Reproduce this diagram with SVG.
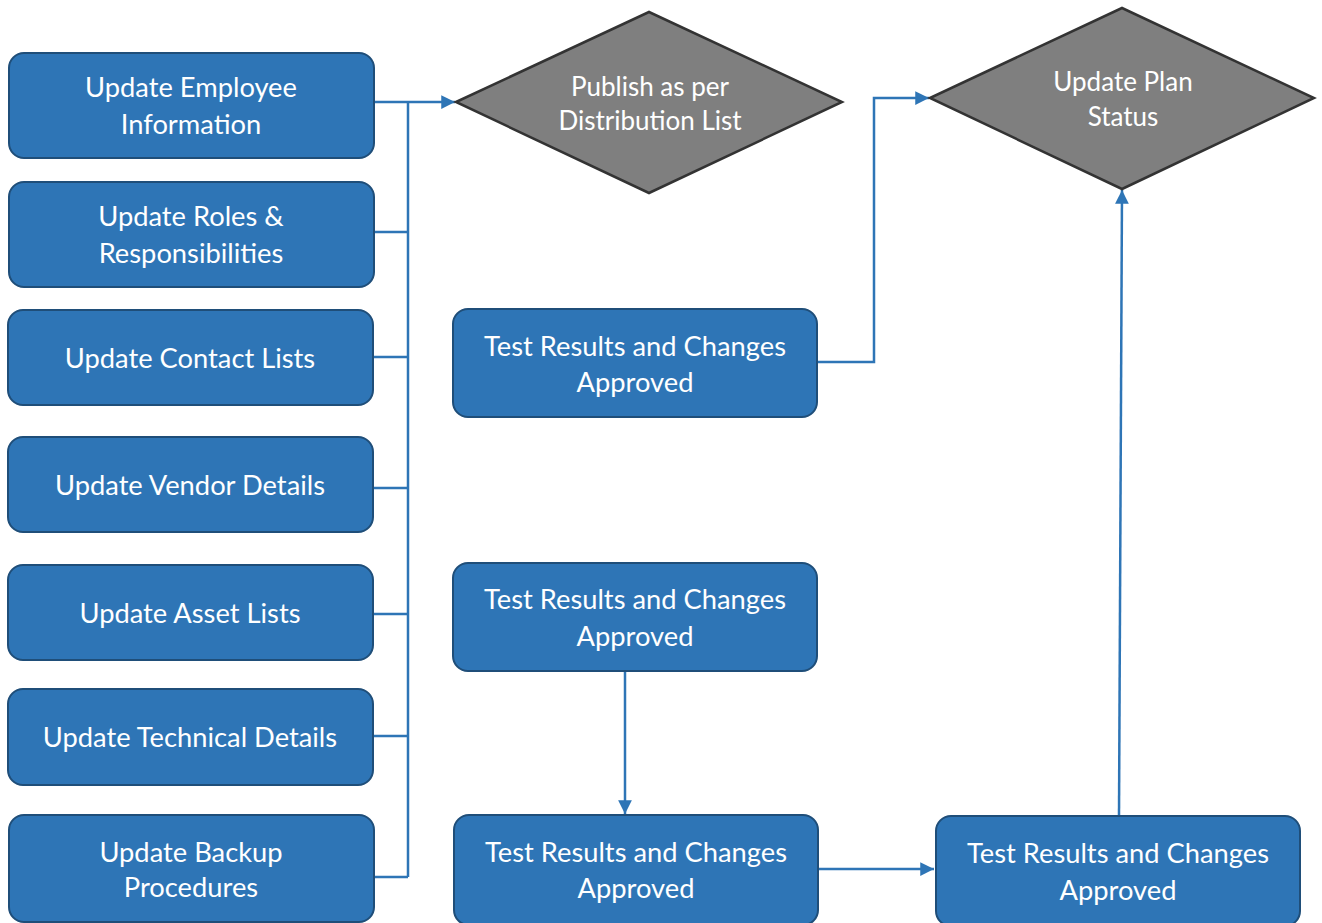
<svg xmlns="http://www.w3.org/2000/svg" width="1322" height="923" viewBox="0 0 1322 923">
  <defs>
    <marker id="arrow" viewBox="0 0 10 10" refX="10" refY="5" markerWidth="6" markerHeight="5.5" markerUnits="strokeWidth" orient="auto">
      <path d="M0,0 L10,5 L0,10 Z" fill="#2e75b6"/>
    </marker>
    <style>
      .box { fill: #2e75b6; stroke: #1f4e79; stroke-width: 2; }
      .dia { fill: #7f7f7f; stroke: #333333; stroke-width: 2.5; }
      .lbl { fill: #ffffff; font-family: Lato, "Open Sans", "Liberation Sans", sans-serif; font-size: 27.3px; text-anchor: middle; }
      .dlbl { font-size: 26px; }
      .wire { fill: none; stroke: #2e75b6; stroke-width: 2.5; }
    </style>
  </defs>
  <rect width="1322" height="923" fill="#ffffff"/>

  <!-- connectors -->
  <g id="connectors">
    <polyline class="wire" points="374,102 408,102"/>
    <polyline class="wire" points="408,102 455,102" marker-end="url(#arrow)"/>
    <polyline class="wire" points="408,102 408,877"/>
    <polyline class="wire" points="374,232 408,232"/>
    <polyline class="wire" points="373,357 408,357"/>
    <polyline class="wire" points="373,488 408,488"/>
    <polyline class="wire" points="373,614 408,614"/>
    <polyline class="wire" points="373,736 408,736"/>
    <polyline class="wire" points="374,877 408,877"/>
    <polyline class="wire" points="817,362 874,362 874,98 929,98" marker-end="url(#arrow)"/>
    <polyline class="wire" points="625,671 625,814" marker-end="url(#arrow)"/>
    <polyline class="wire" points="818,869 934,869" marker-end="url(#arrow)"/>
    <polyline class="wire" points="1119,816 1122,190" marker-end="url(#arrow)"/>
  </g>

  <!-- left column -->
  <g id="employee">
    <rect class="box" x="9" y="53" width="365" height="105" rx="15"/>
    <text class="lbl" x="191" y="97">Update Employee</text>
    <text class="lbl" x="191" y="134">Information</text>
  </g>
  <g id="roles">
    <rect class="box" x="9" y="182" width="365" height="105" rx="15"/>
    <text class="lbl" x="191" y="226">Update Roles &amp;</text>
    <text class="lbl" x="191" y="263">Responsibilities</text>
  </g>
  <g id="contacts">
    <rect class="box" x="8" y="310" width="365" height="95" rx="15"/>
    <text class="lbl" x="190" y="368">Update Contact Lists</text>
  </g>
  <g id="vendor">
    <rect class="box" x="8" y="437" width="365" height="95" rx="15"/>
    <text class="lbl" x="190" y="495">Update Vendor Details</text>
  </g>
  <g id="assets">
    <rect class="box" x="8" y="565" width="365" height="95" rx="15"/>
    <text class="lbl" x="190" y="623">Update Asset Lists</text>
  </g>
  <g id="technical">
    <rect class="box" x="8" y="689" width="365" height="96" rx="15"/>
    <text class="lbl" x="190" y="747">Update Technical Details</text>
  </g>
  <g id="backup">
    <rect class="box" x="9" y="815" width="365" height="107" rx="15"/>
    <text class="lbl" x="191" y="862">Update Backup</text>
    <text class="lbl" x="191" y="897">Procedures</text>
  </g>

  <!-- decisions -->
  <g id="publish">
    <polygon class="dia" points="456,102 649,12 842,102 649,193"/>
    <text class="lbl dlbl" x="650" y="96">Publish as per</text>
    <text class="lbl dlbl" x="650" y="130">Distribution List</text>
  </g>
  <g id="plan-status">
    <polygon class="dia" points="930,98 1122,8 1314,98 1122,189"/>
    <text class="lbl dlbl" x="1123" y="91">Update Plan</text>
    <text class="lbl dlbl" x="1123" y="126">Status</text>
  </g>

  <!-- approval steps -->
  <g id="approved-a">
    <rect class="box" x="453" y="309" width="364" height="108" rx="15"/>
    <text class="lbl" x="635" y="356">Test Results and Changes</text>
    <text class="lbl" x="635" y="392">Approved</text>
  </g>
  <g id="approved-b">
    <rect class="box" x="453" y="563" width="364" height="108" rx="15"/>
    <text class="lbl" x="635" y="609">Test Results and Changes</text>
    <text class="lbl" x="635" y="646">Approved</text>
  </g>
  <g id="approved-c">
    <rect class="box" x="454" y="815" width="364" height="110" rx="15"/>
    <text class="lbl" x="636" y="862">Test Results and Changes</text>
    <text class="lbl" x="636" y="898">Approved</text>
  </g>
  <g id="approved-d">
    <rect class="box" x="936" y="816" width="364" height="110" rx="15"/>
    <text class="lbl" x="1118" y="863">Test Results and Changes</text>
    <text class="lbl" x="1118" y="900">Approved</text>
  </g>
</svg>
